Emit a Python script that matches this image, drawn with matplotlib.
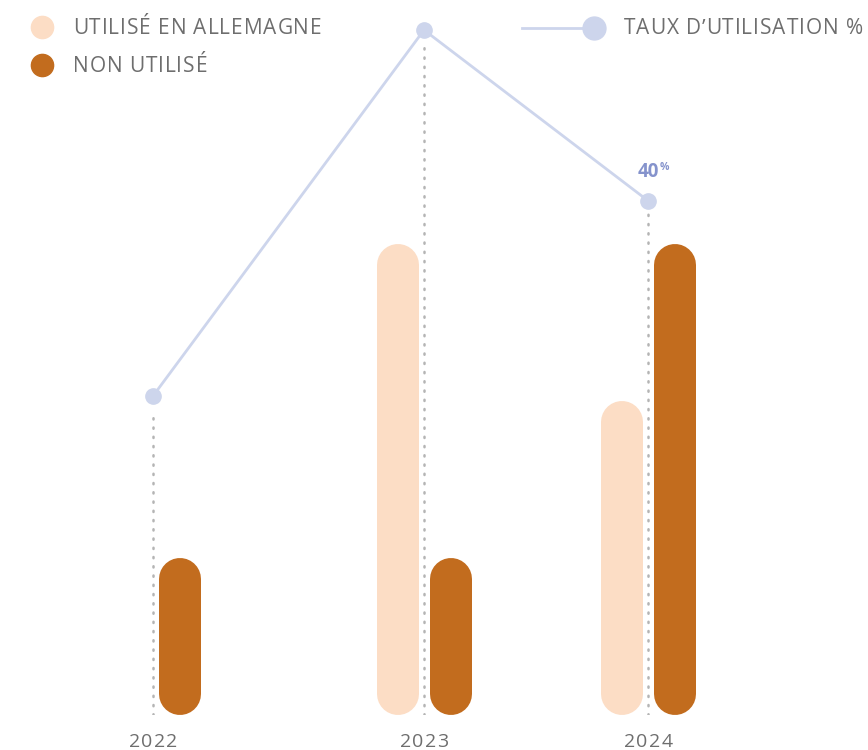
import matplotlib
matplotlib.use("Agg")
import matplotlib.pyplot as plt
from matplotlib.lines import Line2D
from matplotlib.font_manager import FontProperties

# données
annees = ["2022", "2023", "2024"]
utilise = [0, 3, 2]          # utilisé en Allemagne
non_utilise = [1, 1, 3]      # non utilisé
taux = [0, 75, 40]           # taux d'utilisation %

# mise en page
x_pos = [0, 1, 1.827]
c_util = "#fcddc5"
c_non = "#c26c1e"
c_ligne = "#cdd5ec"
c_texte = "#6e6e6e"
police = "Open Sans"

W, H = 868, 750
fig = plt.figure(figsize=(W / 100, H / 100), dpi=100)
rend = fig.canvas.get_renderer()


def fx(px):
    return px / W


def fy(py):
    return 1 - py / H


def texte_espace(xpx, ypx, s, taille, track, ha="left", **kw):
    # texte avec espacement des lettres
    fp = FontProperties(family=police, size=taille)
    larg = [rend.get_text_width_height_descent(c, fp, ismath=False)[0] for c in s]
    total = sum(larg) + track * (len(s) - 1)
    x = xpx - (total / 2 if ha == "center" else 0)
    for c, w in zip(s, larg):
        fig.text(fx(x), fy(ypx), c, ha="left", va="center", fontproperties=fp, **kw)
        x += w + track


# axes: bas = y 715 px, haut = y 0 px
ax = fig.add_axes([0, fy(715), 1, 715 / H])
ax.axis("off")
px_par_unite = 157
ax.set_ylim(0, 715 / px_par_unite)
echelle_x = 424 - 153
ax.set_xlim(-153 / echelle_x, (W - 153) / echelle_x)

decal = 26.5 / echelle_x
larg_pt = 42 * 0.72
r = 21 / px_par_unite


def barre(x, v, couleur):
    if v <= 0:
        return
    ax.plot([x, x], [r, v - r], color=couleur, lw=larg_pt,
            solid_capstyle="round", zorder=3)


ax2 = ax.twinx()
ax2.axis("off")
px_par_pct = 366 / 75
ax2.set_ylim(-319 / px_par_pct, (715 - 319) / px_par_pct)

for i, x in enumerate(x_pos):
    barre(x - decal, utilise[i], c_util)
    barre(x + decal, non_utilise[i], c_non)

# ligne du taux
ax2.plot(x_pos, taux, color=c_ligne, lw=2, zorder=4)
ax2.plot(x_pos, taux, "o", color=c_ligne, ms=11, zorder=5)

# pointillés verticaux
for x, t in zip(x_pos, taux):
    ymin_pct = ax2.get_ylim()[0]
    ax2.plot([x, x], [ymin_pct, t - 2.8], color="#b4b4b4", lw=1.8,
             ls=(0, (0.5, 3.2)), dash_capstyle="round", zorder=2)

# étiquette 40 %
ax2.annotate("40", (x_pos[2], taux[2]), xytext=(8, 17), textcoords="offset points",
             ha="right", va="baseline", fontsize=13.5, fontweight="bold",
             color="#8593cc", family=police)
ax2.annotate("%", (x_pos[2], taux[2]), xytext=(8.5, 22), textcoords="offset points",
             ha="left", va="baseline", fontsize=7.5, fontweight="bold",
             color="#8593cc", family=police)

# années
for a, x in zip(annees, x_pos):
    px = 153 + x * echelle_x
    texte_espace(px, 742, a, 14, 1.2, ha="center", color=c_texte)

# légende
fig.add_artist(Line2D([fx(42)], [fy(27)], marker="o", ms=16, color=c_util, lw=0))
fig.add_artist(Line2D([fx(42)], [fy(65)], marker="o", ms=16, color=c_non, lw=0))
texte_espace(73, 28, "UTILISÉ EN ALLEMAGNE", 15, 0.9, color=c_texte)
texte_espace(73, 66, "NON UTILISÉ", 15, 0.9, color=c_texte)
fig.add_artist(Line2D([fx(522), fx(594)], [fy(28), fy(28)], color=c_ligne, lw=2))
fig.add_artist(Line2D([fx(594)], [fy(28)], marker="o", ms=16.5, color=c_ligne, lw=0))
texte_espace(624, 29, "TAUX D’UTILISATION %", 15, 0.9, color=c_texte)

fig.savefig("out.png", dpi=100)
